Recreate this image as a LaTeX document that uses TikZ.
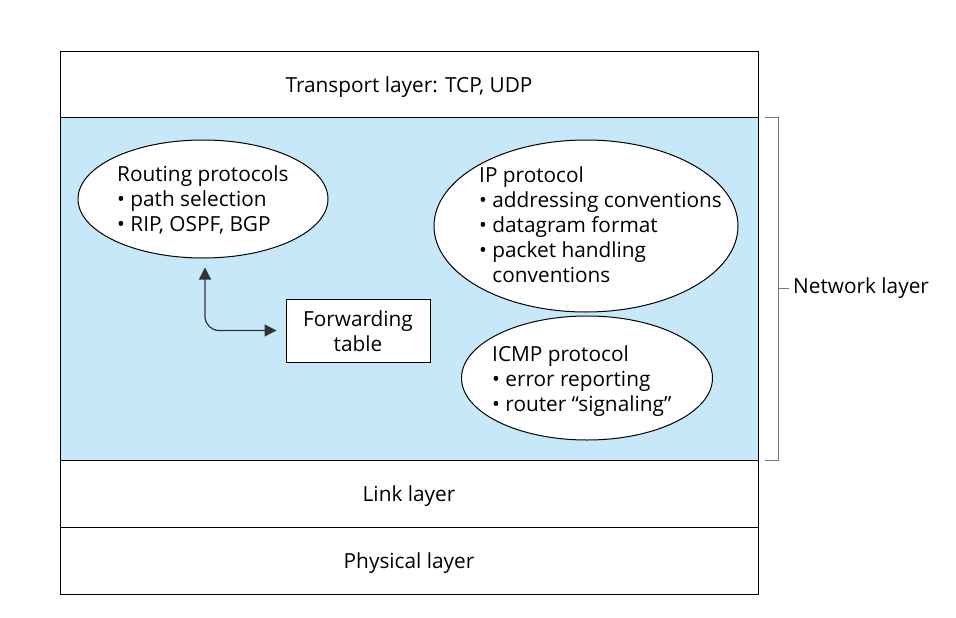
\documentclass[tikz,border=0pt]{standalone}
\usepackage{fontspec}
\setmainfont{Open Sans}
\usepackage{tikz}
\usetikzlibrary{shapes.geometric,arrows.meta,positioning,calc}
\definecolor{netblue}{RGB}{198,232,248}
\definecolor{bracegray}{RGB}{120,120,120}

\begin{document}
\begin{tikzpicture}[
    x=1pt, y=-1pt,
    font=\fontsize{20.8}{25}\selectfont,
    layer/.style={draw=black, line width=1pt, minimum width=698pt, inner sep=0pt, text depth=0pt},
    proto/.style={draw=black, line width=1pt, fill=white, ellipse, inner sep=0pt},
    prototext/.style={anchor=west, align=left, inner sep=0pt},
    tablebox/.style={draw=black, line width=1pt, fill=white, minimum width=144pt, minimum height=63pt, align=center, inner sep=0pt},
    link/.style={{Triangle[length=12pt,width=12pt]}-{Triangle[length=12pt,width=12pt]}, line width=1.2pt, draw=black!80, rounded corners=14pt},
]
\useasboundingbox (0,0) rectangle (956,618);

% Layers
\node[layer, minimum height=65pt] (transport) at (409,84.5) {Transport layer: TCP, UDP};
\node[layer, minimum height=343pt, fill=netblue] (network) at (409,288.5) {};
\node[layer, minimum height=67pt] (linklayer) at (409,493.5) {Link layer};
\node[layer, minimum height=67pt] (physical) at (409,560.5) {Physical layer};

% Network layer contents
\node[proto, minimum width=250pt, minimum height=118pt] (routing) at (203,199) {};
\node[prototext] (routingtext) at (117,199.5)
  {Routing protocols\\\textbullet\ path selection\\\textbullet\ RIP, OSPF, BGP};
\node[proto, minimum width=304pt, minimum height=172pt] (ip) at (586,226) {};
\node[prototext] (iptext) at (479,224.5)
  {IP protocol\\\textbullet\ addressing conventions\\\textbullet\ datagram format\\\textbullet\ packet handling\\\phantom{\textbullet\ }conventions};
\node[proto, minimum width=251pt, minimum height=124pt] (icmp) at (587,378) {};
\node[prototext] (icmptext) at (492,381)
  {ICMP protocol\\\textbullet\ error reporting\\\textbullet\ router ``signaling''};
\node[tablebox] (fwd) at (358,330.5) {\strut Forwarding\\table};

\draw[link] ([xshift=2pt,yshift=-9pt]routing.south) |- ([xshift=-9pt]fwd.west);

% Bracket
\coordinate (btop) at (765,117);
\coordinate (bbot) at (765,460);
\draw[bracegray, line width=1pt] (btop) -- ++(13,0) |- (bbot);
\draw[bracegray, line width=1pt] (778,288.5) -- ++(11,0) coordinate (btick);
\node[anchor=west, inner sep=0pt, xshift=4pt] (netlabel) at (btick) {Network layer};
\end{tikzpicture}
\end{document}
